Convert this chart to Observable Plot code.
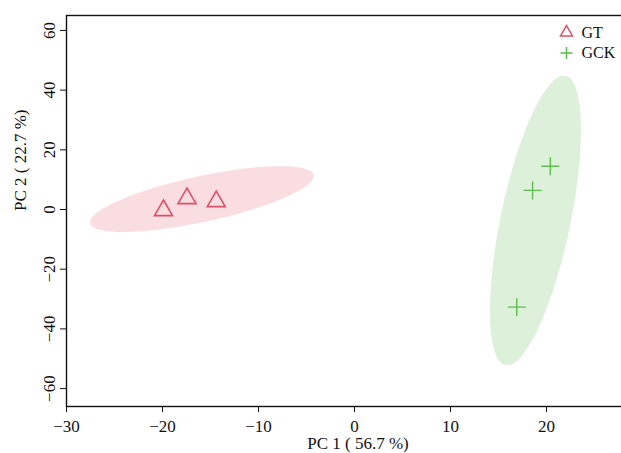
<!DOCTYPE html>
<html><head><meta charset="utf-8">
<script src="https://cdn.jsdelivr.net/npm/d3@7"></script>
<script src="https://cdn.jsdelivr.net/npm/@observablehq/plot@0.6"></script>
<style>
html,body{margin:0;padding:0;overflow:hidden;background:#fff;}
svg{max-width:none !important;}
</style></head><body><div id="chart"></div>
<script>
// ---- data ----
const groups = ["GT", "GCK"];
const groupColors = ["#DC5069", "#5CBF4B"];
const ellipseColors = ["#DF536B", "#57B345"];
const groupSymbols = ["triangle", "plus"];
const gtPC1 = [-19.9, -17.45, -14.4];
const gtPC2 = [-0.3, 3.7, 2.7];
const gckPC1 = [20.4, 18.55, 16.9];
const gckPC2 = [14.5, 6.4, -32.7];
// confidence ellipses: centre and two conjugate semi-axis vectors (data units)
const ellipseCenterX = [-15.9, 18.85];
const ellipseCenterY = [3.5, -3.7];
const ellipseMajor = [[11.65, 8.1], [-3.13, -48.5]];
const ellipseMinor = [[0.50, -7.5], [3.56, -2.38]];
const xTicks = [-30, -20, -10, 0, 10, 20];
const yTicks = [-60, -40, -20, 0, 20, 40, 60];
const xLabel = "PC 1 ( 56.7 %)";
const yLabel = "PC 2 ( 22.7 %)";

const points = [
  gtPC1.map((v, i) => ({x: v, y: gtPC2[i]})),
  gckPC1.map((v, i) => ({x: v, y: gckPC2[i]}))
];
const ellipses = groups.map((g, k) => d3.range(0, 360, 2).map(deg => {
  const t = deg * Math.PI / 180;
  return {
    x: ellipseCenterX[k] + Math.cos(t) * ellipseMajor[k][0] + Math.sin(t) * ellipseMinor[k][0],
    y: ellipseCenterY[k] + Math.cos(t) * ellipseMajor[k][1] + Math.sin(t) * ellipseMinor[k][1]
  };
}));
const legendSizes = [4.45, 3.97];
const pointSizes = [6.7, 5.84];
const pointWidths = [1.6, 1.4];

const chart = Plot.plot({
  width: 650, height: 453,
  marginLeft: 66, marginRight: 1, marginTop: 15, marginBottom: 47,
  x: {domain: [-30, 30.73]},
  y: {domain: [-66, 65]},
  style: {fontFamily: "'Liberation Serif', 'DejaVu Serif', serif", fontSize: "17px", color: "#111", background: "white", maxWidth: "none"},
  marks: [
    ...groups.map((g, k) => Plot.line(ellipses[k], {x: "x", y: "y", curve: "linear-closed", fill: ellipseColors[k], fillOpacity: 0.2, stroke: "none"})),
    ...groups.map((g, k) => Plot.dot(points[k], {x: "x", y: "y", symbol: groupSymbols[k], r: pointSizes[k], stroke: groupColors[k], fill: "none", strokeWidth: pointWidths[k]})),
    Plot.axisX({ticks: xTicks, tickSize: 6, tickPadding: 7, label: null, stroke: "#111", fill: "#111"}),
    Plot.axisY({ticks: yTicks, tickSize: 6, tickPadding: 6, tickRotate: -90, textAnchor: "middle", lineAnchor: "bottom", label: null, stroke: "#111", fill: "#111"}),
    Plot.frame({stroke: "#111", strokeWidth: 1.4}),
    Plot.text([xLabel], {text: d => d, frameAnchor: "bottom", dy: 37, lineAnchor: "middle", fill: "#111"}),
    Plot.text([yLabel], {text: d => d, frameAnchor: "left", dx: -46, rotate: -90, lineAnchor: "middle", fill: "#111"}),
    ...groups.map((g, k) => Plot.dot([g], {frameAnchor: "top-right", dx: -83, dy: 17 + 20.5 * k, symbol: groupSymbols[k], r: legendSizes[k], stroke: groupColors[k], fill: "none", strokeWidth: 1.5})),
    ...groups.map((g, k) => Plot.text([g], {text: d => d, frameAnchor: "top-right", dx: -68, dy: 17 + 20.5 * k, textAnchor: "start", lineAnchor: "middle", fontSize: 16, fill: "#111"}))
  ]
});
document.getElementById("chart").appendChild(chart);
</script></body></html>
